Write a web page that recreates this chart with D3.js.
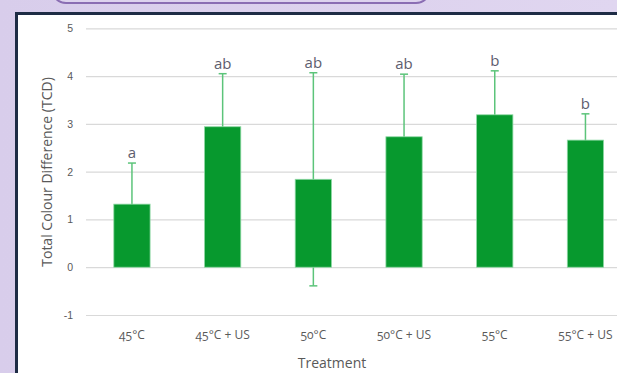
<!DOCTYPE html>
<html><head><meta charset="utf-8">
<script src="https://cdn.jsdelivr.net/npm/d3@7"></script>
<style>
html,body{margin:0;padding:0;background:#ddd3ee;}
svg{display:block;font-family:"Open Sans",sans-serif;font-variant-numeric:oldstyle-nums;}
</style></head>
<body>
<svg id="c" width="617" height="373"></svg>
<script>
const categories = ["45°C","45°C + US","50°C","50°C + US","55°C","55°C + US"];
const meanTCD = [1.32, 2.94, 1.84, 2.73, 3.19, 2.66];
const errorTCD = [0.86, 1.11, 2.23, 1.31, 0.92, 0.55];
const letters = ["a","ab","ab","ab","b","b"];
const yTicks = [-1,0,1,2,3,4,5];

const svg = d3.select("#c");
const defs = svg.append("defs");
const g0 = defs.append("linearGradient").attr("id","bg").attr("x1","0").attr("x2","1");
g0.append("stop").attr("offset","0").attr("stop-color","#d8cdeb");
g0.append("stop").attr("offset","1").attr("stop-color","#e0d6f0");
svg.append("rect").attr("width",617).attr("height",373).attr("fill","url(#bg)");
svg.append("rect").attr("x",52).attr("y",-30).attr("width",378).attr("height",33)
  .attr("rx",14).attr("fill","#ddd3ee").attr("stroke","#8a6db3").attr("stroke-width",2);
svg.append("rect").attr("x",16.5).attr("y",13.5).attr("width",640).attr("height",400)
  .attr("fill","#fff").attr("stroke","#1e2c45").attr("stroke-width",3);

const x = d3.scaleBand().domain(categories).range([86.6, 630.8]).paddingInner(0.6).paddingOuter(0.3);
const y = d3.scaleLinear().domain([-1,5]).range([315,28.3]);

const yAxis = d3.axisLeft(y).tickValues(yTicks).tickSize(-560).tickFormat(d3.format("d"));
const ga = svg.append("g").attr("transform","translate(86,0)").call(yAxis);
ga.select(".domain").remove();
ga.selectAll(".tick line").attr("stroke","#d9d9d9").attr("stroke-width",1.2);
ga.selectAll(".tick text").attr("x",-13).attr("fill","#595959").attr("font-size",10.5).text(d=>d<0?"-"+Math.abs(d):d);

const eb = svg.append("g").attr("stroke","#5cc47a").attr("stroke-width",1.5);
categories.forEach((c,i)=>{
  const cx = x(c)+x.bandwidth()/2;
  eb.append("line").attr("x1",cx).attr("x2",cx).attr("y1",y(meanTCD[i]+errorTCD[i])).attr("y2",y(meanTCD[i]-errorTCD[i]));
  eb.append("line").attr("x1",cx-4).attr("x2",cx+4).attr("y1",y(meanTCD[i]+errorTCD[i])).attr("y2",y(meanTCD[i]+errorTCD[i]));
  eb.append("line").attr("x1",cx-4).attr("x2",cx+4).attr("y1",y(meanTCD[i]-errorTCD[i])).attr("y2",y(meanTCD[i]-errorTCD[i]));
});
svg.append("g").selectAll("rect").data(categories).join("rect")
  .attr("x",d=>x(d)).attr("width",x.bandwidth())
  .attr("y",(d,i)=>y(meanTCD[i])).attr("height",(d,i)=>y(0)-y(meanTCD[i]))
  .attr("fill","#07992e").attr("stroke","#8fd9a5").attr("stroke-width",0.8);

svg.append("g").selectAll("text").data(categories).join("text")
  .attr("x",d=>x(d)+x.bandwidth()/2).attr("y",(d,i)=>y(meanTCD[i]+errorTCD[i])-5)
  .attr("text-anchor","middle").attr("font-size",15).attr("fill","#5d5d6e").text((d,i)=>letters[i]);

svg.append("g").selectAll("text").data(categories).join("text")
  .attr("x",d=>x(d)+x.bandwidth()/2).attr("y",339)
  .attr("text-anchor","middle").attr("font-size",12).attr("fill","#595959").text(d=>d);

svg.append("text").attr("x",332).attr("y",368).attr("text-anchor","middle")
  .attr("font-size",14).attr("fill","#595959").text("Treatment");
svg.append("text").attr("transform","translate(52,172) rotate(-90)").attr("text-anchor","middle")
  .attr("font-size",14).attr("fill","#595959").text("Total Colour Difference (TCD)");
</script>
</body></html>
